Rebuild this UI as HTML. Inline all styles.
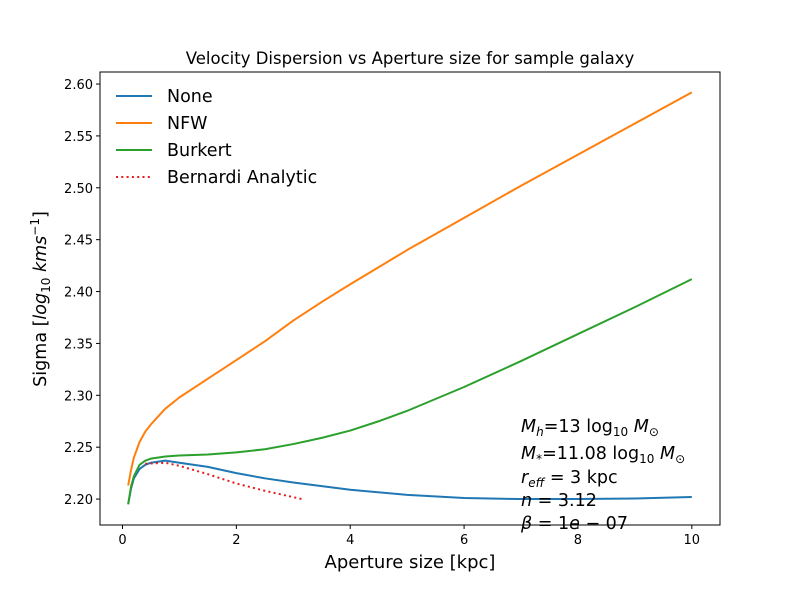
<!DOCTYPE html>
<html><head><meta charset="utf-8"><style>
body{margin:0;background:#fff}
svg{display:block;font-family:"DejaVu Sans","Liberation Sans",sans-serif}
</style></head><body>
<svg id="chart" width="800" height="600">
<rect width="800" height="600" fill="#fff"/>
<text x="410" y="64" font-size="16.5" text-anchor="middle">Velocity Dispersion vs Aperture size for sample galaxy</text>
<g id="ticks"></g>
<g id="series"></g>
<rect x="100" y="72" width="620" height="453" fill="none" stroke="#000" stroke-width="1"/>
<text x="410" y="568" font-size="18" text-anchor="middle">Aperture size [kpc]</text>
<text transform="translate(46,299) rotate(-90)" font-size="17.5" text-anchor="middle">Sigma [<tspan font-style="italic">log</tspan><tspan font-size="12" dy="4">10</tspan><tspan dy="-4"> </tspan><tspan font-style="italic">kms</tspan><tspan font-size="12" dy="-7">−1</tspan><tspan dy="7">]</tspan></text>
<g font-size="17.5">
<line x1="116" y1="96" x2="152" y2="96" stroke="#1f77b4" stroke-width="2"/><text x="167" y="102">None</text>
<line x1="116" y1="123" x2="152" y2="123" stroke="#ff7f0e" stroke-width="2"/><text x="167" y="129">NFW</text>
<line x1="116" y1="150" x2="152" y2="150" stroke="#2ca02c" stroke-width="2"/><text x="167" y="156">Burkert</text>
<line x1="116" y1="177" x2="152" y2="177" stroke="#e41a1c" stroke-width="2" stroke-dasharray="2,3.3"/><text x="167" y="183">Bernardi Analytic</text>
</g>
<g font-size="17.5">
<text x="521" y="432"><tspan font-style="italic">M</tspan><tspan font-size="12" dy="4" font-style="italic">h</tspan><tspan dy="-4">=13 log</tspan><tspan font-size="12" dy="4">10</tspan><tspan dy="-4" font-style="italic"> M</tspan><tspan font-size="12" dy="4">⊙</tspan></text>
<text x="521" y="459"><tspan font-style="italic">M</tspan><tspan font-size="12" dy="4">*</tspan><tspan dy="-4">=11.08 log</tspan><tspan font-size="12" dy="4">10</tspan><tspan dy="-4" font-style="italic"> M</tspan><tspan font-size="12" dy="4">⊙</tspan></text>
<text x="521" y="483"><tspan font-style="italic">r</tspan><tspan font-size="12" dy="4" font-style="italic">eff</tspan><tspan dy="-4"> = 3 kpc</tspan></text>
<text x="521" y="506"><tspan font-style="italic">n</tspan> = 3.12</text>
<text x="521" y="529"><tspan font-style="italic">β</tspan> = 1<tspan font-style="italic">e</tspan> − 07</text>
</g>
</svg>
<script>
const xTicks=[0,2,4,6,8,10];
const yTicks=[2.20,2.25,2.30,2.35,2.40,2.45,2.50,2.55,2.60];
const xNone=[0.1,0.15,0.2,0.3,0.4,0.5,0.75,1,1.5,2,2.5,3,4,5,6,7,8,9,10];
const yNone=[2.195,2.210,2.220,2.229,2.233,2.235,2.237,2.235,2.231,2.225,2.220,2.216,2.209,2.204,2.201,2.200,2.200,2.2005,2.202];
const xNFW=[0.1,0.15,0.2,0.3,0.4,0.5,0.75,1,1.25,1.5,2,2.5,3,3.5,4,5,6,7,8,9,10];
const yNFW=[2.213,2.228,2.240,2.255,2.265,2.272,2.287,2.298,2.307,2.316,2.334,2.352,2.372,2.390,2.407,2.440,2.471,2.502,2.532,2.562,2.592];
const xBurkert=[0.1,0.15,0.2,0.3,0.4,0.5,0.75,1,1.5,2,2.5,3,3.5,4,4.5,5,6,7,8,9,10];
const yBurkert=[2.195,2.212,2.222,2.233,2.237,2.239,2.241,2.242,2.243,2.245,2.248,2.253,2.259,2.266,2.275,2.285,2.308,2.333,2.359,2.385,2.412];
const xBernardi=[0.4,0.75,1,1.5,2,2.5,3.15];
const yBernardi=[2.234,2.235,2.232,2.224,2.215,2.208,2.200];
const X0=100,X1=720,Y0=525,Y1=72,xmin=-0.395,xmax=10.495,ymin=2.175,ymax=2.6116;
const sx=v=>X0+(v-xmin)/(xmax-xmin)*(X1-X0);
const sy=v=>Y0-(v-ymin)/(ymax-ymin)*(Y0-Y1);
const NS="http://www.w3.org/2000/svg";
const tg=document.getElementById('ticks'),sg=document.getElementById('series');
function mk(t,a,p){const e=document.createElementNS(NS,t);for(const k in a)e.setAttribute(k,a[k]);p.appendChild(e);return e;}
xTicks.forEach(v=>{
 const l=mk('line',{x1:sx(v),x2:sx(v),y1:Y0,y2:Y0+4,stroke:'#000'},tg);
 
 
 const t=mk('text',{x:sx(v),y:Y0+19,'font-size':13,'text-anchor':'middle'},tg);t.textContent=v;
 
 
});
yTicks.forEach(v=>{
 const l=mk('line',{x1:X0-4,x2:X0,y1:sy(v),y2:sy(v),stroke:'#000'},tg);
 
 
 const t=mk('text',{x:X0-7,y:sy(v)+5,'font-size':13,'text-anchor':'end'},tg);t.textContent=v.toFixed(2);
 
 
});
function line(xs,ys,col,name,dash){
 const p=mk('polyline',{points:xs.map((x,i)=>sx(x)+','+sy(ys[i])).join(' '),fill:'none',stroke:col,'stroke-width':2,'stroke-linejoin':'round'},sg);
 if(dash)p.setAttribute('stroke-dasharray',dash);
 
 
}
line(xNone,yNone,'#1f77b4','line-none');
line(xNFW,yNFW,'#ff7f0e','line-nfw');
line(xBurkert,yBurkert,'#2ca02c','line-burkert');
line(xBernardi,yBernardi,'#e41a1c','line-bernardi','2,3.3');
</script>
</body></html>
